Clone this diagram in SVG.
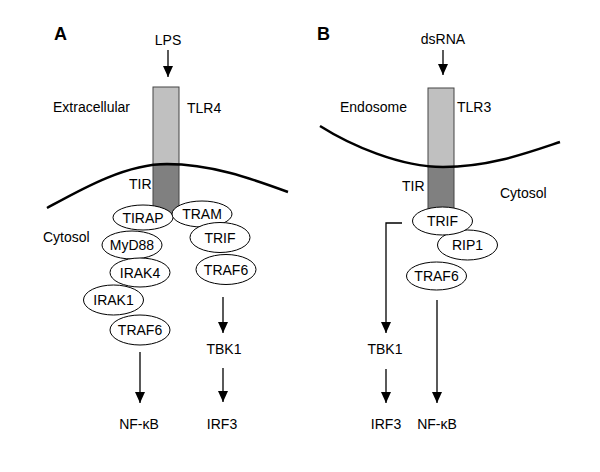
<svg xmlns="http://www.w3.org/2000/svg" width="600" height="472" viewBox="0 0 600 472">
<style>
text{font-family:"Liberation Sans",Arial,sans-serif;font-size:14px;fill:#000}
.lbl{font-weight:bold;font-size:18px}
.c{text-anchor:middle}
.node ellipse{fill:#fff;stroke:#000;stroke-width:1}
.mem{fill:none;stroke:#000;stroke-width:2.5}
.lt{fill:#c0c0c0;stroke:#444;stroke-width:1}
.dk{fill:#808080;stroke:#444;stroke-width:1}
.conn path{fill:none;stroke:#000;stroke-width:1.3}
</style>
<defs>
<marker id="ah" markerUnits="userSpaceOnUse" markerWidth="11" markerHeight="10" refX="11" refY="5" orient="auto" viewBox="0 0 11 10">
<path d="M0,0 L11,5 L0,10 z" fill="#000"/>
</marker>
</defs>
<rect width="600" height="472" fill="#fff"/>
<!-- Panel A -->
<text class="lbl" x="54" y="40">A</text>
<text class="c" x="168" y="45">LPS</text>
<text x="53" y="112">Extracellular</text>
<text x="187" y="113">TLR4</text>
<text x="43" y="242">Cytosol</text>
<text x="129" y="189">TIR</text>
<g id="tlr4">
<rect class="lt" x="153" y="87" width="26" height="78"/>
<rect class="dk" x="153" y="165" width="26" height="50"/>
</g>
<path class="mem" d="M47,208 C80,190 125,164 167,164 C210,164 250,178 288,192"/>
<g id="tirap" class="node"><ellipse cx="143" cy="217.5" rx="30" ry="12.5"/><text class="c" x="143" y="222.5">TIRAP</text></g>
<g id="tram" class="node"><ellipse cx="202" cy="214" rx="30" ry="13"/><text class="c" x="202" y="219">TRAM</text></g>
<g id="myd88" class="node"><ellipse cx="132" cy="245" rx="30" ry="14"/><text class="c" x="132" y="250">MyD88</text></g>
<g id="trifA" class="node"><ellipse cx="220" cy="237.5" rx="30" ry="15"/><text class="c" x="220" y="242.5">TRIF</text></g>
<g id="irak4" class="node"><ellipse cx="140" cy="272.5" rx="30" ry="14.5"/><text class="c" x="140" y="277.5">IRAK4</text></g>
<g id="traf6A2" class="node"><ellipse cx="226" cy="269.5" rx="30" ry="15"/><text class="c" x="226" y="274.5">TRAF6</text></g>
<g id="irak1" class="node"><ellipse cx="113.5" cy="300" rx="30" ry="15"/><text class="c" x="113.5" y="305">IRAK1</text></g>
<g id="traf6A1" class="node"><ellipse cx="140" cy="330" rx="30" ry="15"/><text class="c" x="140" y="335">TRAF6</text></g>
<text class="c" x="224" y="354">TBK1</text>
<text class="c" x="222" y="429">IRF3</text>
<text class="c" x="139" y="429">NF-κB</text>
<!-- Panel B -->
<text class="lbl" x="317" y="40">B</text>
<text class="c" x="443" y="44">dsRNA</text>
<text x="340" y="112">Endosome</text>
<text x="457" y="112">TLR3</text>
<text x="500" y="198">Cytosol</text>
<text x="402" y="191">TIR</text>
<g id="tlr3">
<rect class="lt" x="428" y="88" width="26" height="79"/>
<rect class="dk" x="428" y="167" width="26" height="45"/>
</g>
<path class="mem" d="M320,126 C350,145 400,167 443,167 C490,167 530,152 560,142"/>
<g id="rip1" class="node"><ellipse cx="467.5" cy="245" rx="30" ry="15"/><text class="c" x="467.5" y="250">RIP1</text></g>
<g id="trifB" class="node"><ellipse cx="442.5" cy="221" rx="30" ry="14"/><text class="c" x="442.5" y="226">TRIF</text></g>
<g id="traf6B" class="node"><ellipse cx="436.5" cy="276" rx="30" ry="14"/><text class="c" x="436.5" y="281">TRAF6</text></g>
<text class="c" x="385" y="354">TBK1</text>
<text class="c" x="386" y="429">IRF3</text>
<text class="c" x="437" y="429">NF-κB</text>
<!-- Connectors -->
<g id="connectors" class="conn">
<path d="M168,50 L168,77" marker-end="url(#ah)"/>
<path d="M223,297 L223,333" marker-end="url(#ah)"/>
<path d="M223,368 L223,402" marker-end="url(#ah)"/>
<path d="M140,352 L140,403" marker-end="url(#ah)"/>
<path d="M443,50 L443,75" marker-end="url(#ah)"/>
<path d="M402,223 L386,223 L386,333" marker-end="url(#ah)"/>
<path d="M386,369 L386,403" marker-end="url(#ah)"/>
<path d="M437,300 L437,403" marker-end="url(#ah)"/>
</g>
</svg>
